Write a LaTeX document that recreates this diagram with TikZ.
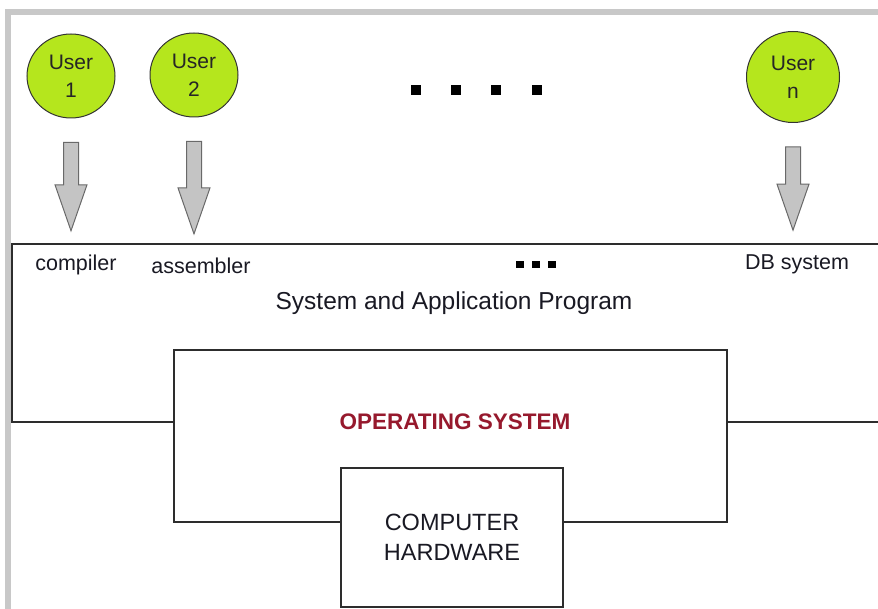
\documentclass[tikz,border=0pt]{standalone}
\usepackage{fontspec}
\setmainfont{Liberation Sans}
\usetikzlibrary{calc}
\usetikzlibrary{positioning}
\usetikzlibrary{shapes.geometric}
\definecolor{userfill}{RGB}{181,230,29}
\definecolor{arrowfill}{RGB}{196,196,196}
\definecolor{arrowedge}{RGB}{105,105,105}
\definecolor{linegray}{RGB}{45,45,45}
\definecolor{framegray}{RGB}{200,200,200}
\definecolor{osred}{RGB}{150,25,45}
\definecolor{textdark}{RGB}{25,25,35}
\tikzstyle{usernode} = [draw=black!80, fill=userfill, ellipse, line width=1pt, minimum width=88pt, minimum height=84pt, inner sep=0, align=center, font=\fontsize{21}{28}\selectfont, text=black!85]
\tikzstyle{layerbox} = [draw=linegray, line width=2pt, fill=white, rectangle, inner sep=0]
\tikzstyle{labelnode} = [inner sep=0, text=textdark, font=\fontsize{21.5}{26}\selectfont]
% block arrow, drawn below the start node down to the top of the target node
\tikzstyle{fatarrow} = [draw=arrowedge, fill=arrowfill, line width=1pt, line join=miter,
  to path={let \p1=($(\tikztostart.south)+(0,24)$), \p2=($(\tikztotarget.north)+(0,-24)$) in
    (\x1-7.5pt,\y1) -- (\x1+7.5pt,\y1) -- (\x1+7.5pt,\y2+46pt) -- (\x1+16pt,\y2+46pt)
    -- (\x1,\y2) -- (\x1-16pt,\y2+46pt) -- (\x1-7.5pt,\y2+46pt) -- cycle}]

\begin{document}
\begin{tikzpicture}[x=1pt, y=-1pt]
    \useasboundingbox (0,0) rectangle (878,609);
    \draw[framegray, line width=6pt] (7.5,12) rectangle (900,615);

    % layers, outermost first
    \node[layerbox, minimum width=878pt, minimum height=178pt] (apps) at (451,333) {};
    \node[layerbox, minimum width=553pt, minimum height=172pt] (os) at (450.5,436) {};
    \node[layerbox, minimum width=222pt, minimum height=139pt, align=center,
          text=textdark, font=\fontsize{23.5}{30}\selectfont] (hw) at (452,537.5) {COMPUTER\\HARDWARE};

    \node[labelnode, font=\fontsize{24.5}{28}\selectfont] (apps_title) at (454,303) {System and Application Program};
    \node[labelnode, text=osred, font=\bfseries\fontsize{22.5}{26}\selectfont] (os_title) at (455,422) {OPERATING SYSTEM};

    % users
    \node[usernode] (u1) at (71,76) {User\\1};
    \node[usernode] (u2) at (194,75) {User\\2};
    \node[usernode, minimum width=93pt, minimum height=91pt] (un) at (793,77) {User\\n};
    \foreach \x in {416,456,496,537}
        \fill (\x-5,85) rectangle (\x+5,95);

    % programs
    \node[labelnode] (compiler) at (76,265) {compiler};
    \node[labelnode] (assembler) at (201,266) {assembler};
    \node[labelnode] (dbsys) at (797,264) {DB system};
    \foreach \x in {520,536,552}
        \fill (\x-4,261) rectangle (\x+4,268);

    \draw[fatarrow] (u1) to (compiler);
    \draw[fatarrow] (u2) to (assembler);
    \draw[fatarrow] (un) to (dbsys);
\end{tikzpicture}
\end{document}
